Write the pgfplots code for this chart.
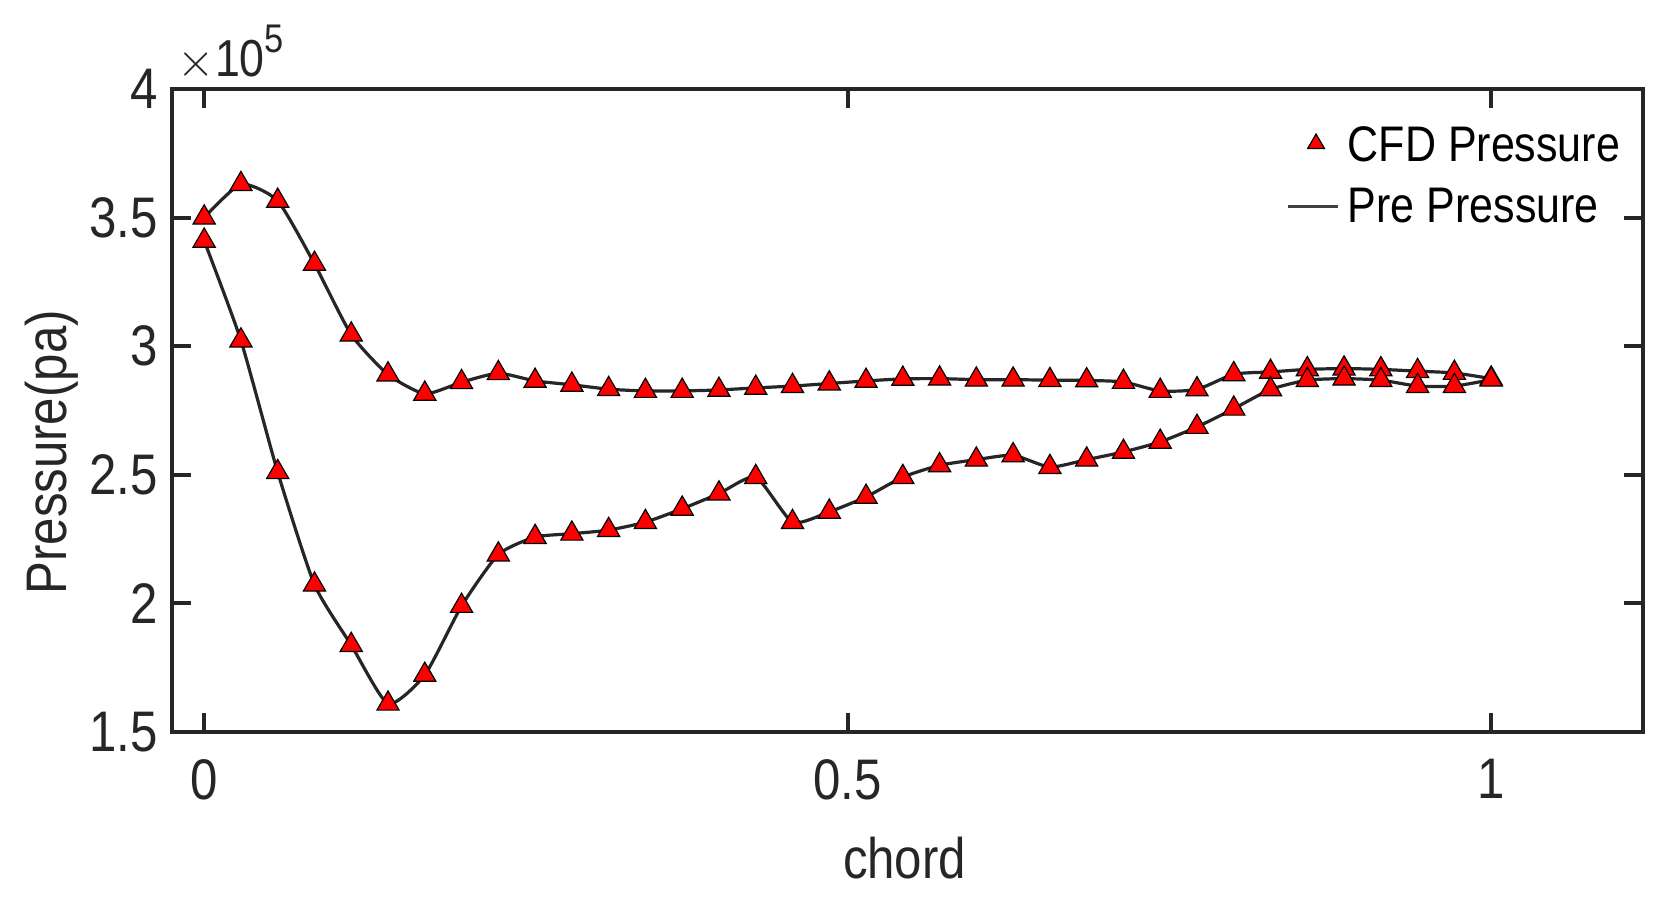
\documentclass[border=0pt]{standalone}
\usepackage{pgfplots}
\pgfplotsset{compat=1.18}
\usepackage{fontspec}
\setmainfont[FakeStretch=0.86]{Liberation Sans}
\definecolor{axgray}{HTML}{262626}
\definecolor{mred}{HTML}{FF0000}

\pgfplotstableread{
x y
0.000000 3.500
0.028571 3.630
0.057143 3.565
0.085714 3.320
0.114286 3.045
0.142857 2.890
0.171429 2.815
0.200000 2.860
0.228571 2.895
0.257143 2.865
0.285714 2.850
0.314286 2.833
0.342857 2.826
0.371429 2.826
0.400000 2.830
0.428571 2.838
0.457143 2.845
0.485714 2.855
0.514286 2.865
0.542857 2.873
0.571429 2.874
0.600000 2.870
0.628571 2.870
0.657143 2.868
0.685714 2.867
0.714286 2.861
0.742857 2.826
0.771429 2.832
0.800000 2.891
0.828571 2.900
0.857143 2.910
0.885714 2.913
0.914286 2.910
0.942857 2.903
0.971429 2.896
1.000000 2.874
}\uppertab

\pgfplotstableread{
x y
0.000000 3.410
0.028571 3.022
0.057143 2.510
0.085714 2.073
0.114286 1.838
0.142857 1.610
0.171429 1.722
0.200000 1.990
0.228571 2.190
0.257143 2.258
0.285714 2.271
0.314286 2.285
0.342857 2.316
0.371429 2.368
0.400000 2.427
0.428571 2.491
0.457143 2.316
0.485714 2.356
0.514286 2.414
0.542857 2.491
0.571429 2.537
0.600000 2.559
0.628571 2.576
0.657143 2.530
0.685714 2.559
0.714286 2.589
0.742857 2.628
0.771429 2.686
0.800000 2.757
0.828571 2.832
0.857143 2.868
0.885714 2.874
0.914286 2.868
0.942857 2.845
0.971429 2.845
1.000000 2.870
}\lowertab

\pgfplotsset{
  legmark/.style={legend image code/.code={\draw[##1, mark size=2.4pt] plot coordinates {(-5.5pt,0.9pt)};}},
  legline/.style={legend image code/.code={\draw[##1, line width=0.85pt, black!75] (-12.5pt,0.6pt) -- (0pt,0.6pt);}},
}

\begin{document}
\begin{tikzpicture}
\useasboundingbox (-43pt,-45pt) rectangle (376pt,183pt);
\begin{axis}[
  scale only axis,
  width=367.75pt, height=160.75pt,
  xmin=-0.025, xmax=1.118, ymin=1.5, ymax=4,
  xtick={0,0.5,1}, ytick={1.5,2,2.5,3,3.5,4},
  xticklabels={0,0.5,1}, yticklabels={1.5,2,2.5,3,3.5,4},
  tick align=inside,
  major tick length=4.75pt,
  axis line style={axgray, line width=1.1pt},
  every tick/.style={axgray, line width=1pt},
  /pgf/number format/assume math mode=true,
  tick label style={font=\fontsize{14.3}{14.3}\selectfont, text=axgray},
  xticklabel style={yshift=-3.3pt},
  xlabel={chord},
  ylabel={Pressure(pa)},
  label style={font=\fontsize{14.3}{14.3}\selectfont, text=axgray},
  x label style={at={(axis description cs:0.498,0)}, anchor=base, yshift=-36.5pt},
  y label style={at={(axis description cs:-0.0816,0.435)}, anchor=center},
  legend style={draw=none, fill=none, at={(axis description cs:0.757,0.955)},
    anchor=north west, font=\fontsize{12.5}{14}\selectfont, text=black,
    row sep=1.2pt, inner sep=0pt},
  legend cell align=left,
  clip=false,
]
\addplot[only marks, mark=triangle*, mark size=3.2pt,
  mark options={fill=mred, draw=black, line width=0.3pt}, legmark]
  table[x=x,y=y] {\uppertab};
\addlegendentry{CFD Pressure}
\addplot[only marks, mark=triangle*, mark size=3.2pt,
  mark options={fill=mred, draw=black, line width=0.3pt}, forget plot]
  table[x=x,y=y] {\lowertab};
\addplot[black!85, line width=0.8pt, smooth, tension=0.35, legline]
  table[x=x,y=y] {\uppertab};
\addlegendentry{Pre Pressure}
\addplot[black!85, line width=0.8pt, smooth, tension=0.35, forget plot]
  table[x=x,y=y] {\lowertab};
\node[anchor=base west, inner sep=0pt, text=axgray, xshift=1.25pt, yshift=3.1pt]
  at (axis description cs:0,1)
  {\fontsize{13}{13}\selectfont \(\times\)10\raisebox{6pt}{\fontsize{10}{10}\selectfont 5}};
\end{axis}
\end{tikzpicture}
\end{document}
